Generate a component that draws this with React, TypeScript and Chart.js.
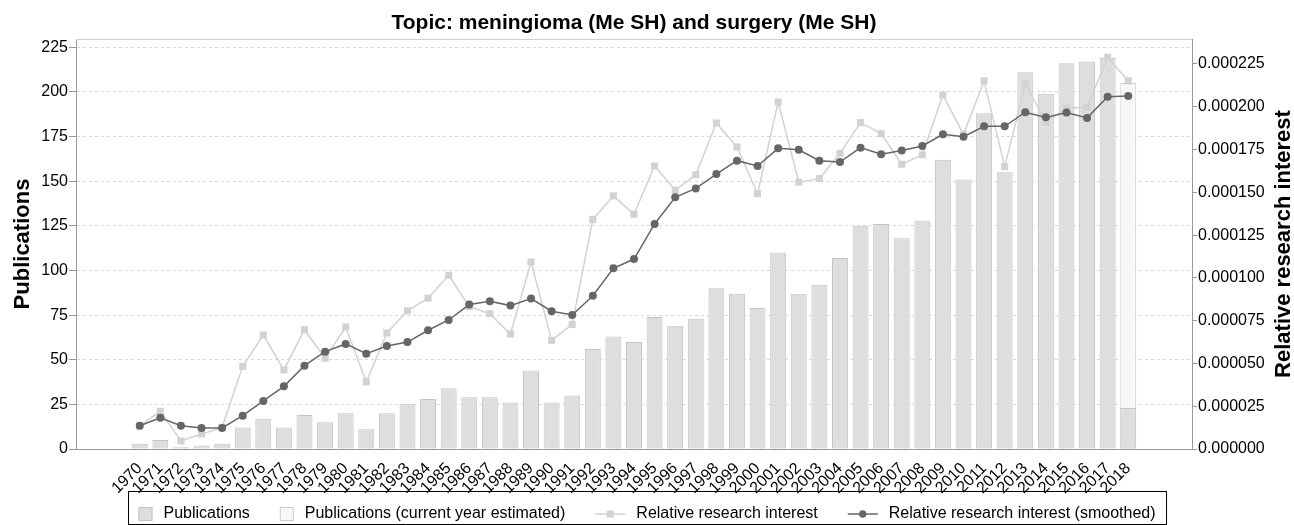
import { useEffect, useRef } from 'react';
import { Chart, registerables } from 'chart.js';

Chart.register(...registerables);

const FONT = "'Liberation Sans', Arial, Helvetica, sans-serif";

const TITLE = 'Topic: meningioma (Me SH) and surgery (Me SH)';
const LEFT_AXIS_TITLE = 'Publications';
const RIGHT_AXIS_TITLE = 'Relative research interest';

const years = [
  1970, 1971, 1972, 1973, 1974, 1975, 1976, 1977, 1978, 1979,
  1980, 1981, 1982, 1983, 1984, 1985, 1986, 1987, 1988, 1989,
  1990, 1991, 1992, 1993, 1994, 1995, 1996, 1997, 1998, 1999,
  2000, 2001, 2002, 2003, 2004, 2005, 2006, 2007, 2008, 2009,
  2010, 2011, 2012, 2013, 2014, 2015, 2016, 2017, 2018,
];

const publications = [
  3, 5, 1, 2, 3, 12, 17, 12, 19, 15,
  20, 11, 20, 25, 28, 34, 29, 29, 26, 44,
  26, 30, 56, 63, 60, 74, 69, 73, 90, 87,
  79, 110, 87, 92, 107, 125, 126, 118, 128, 162,
  151, 188, 155, 211, 199, 216, 217, 219, 23,
];

const estimatedYears = [2018];
const estimatedPublications = [205];

const relativeInterest = [
  13.5e-6, 22.0e-6, 4.7e-6, 8.8e-6, 12.5e-6, 48.3e-6, 66.6e-6, 46.2e-6, 69.7e-6, 53.0e-6,
  71.3e-6, 39.2e-6, 67.8e-6, 80.8e-6, 88.1e-6, 101.5e-6, 83.2e-6, 79.1e-6, 67.2e-6, 109.3e-6,
  63.5e-6, 72.8e-6, 134.2e-6, 147.9e-6, 137.2e-6, 165.4e-6, 151.2e-6, 160.3e-6, 190.5e-6, 176.5e-6,
  149.2e-6, 202.8e-6, 155.9e-6, 158.0e-6, 172.8e-6, 190.7e-6, 184.3e-6, 166.4e-6, 172.0e-6, 206.9e-6,
  183.9e-6, 215.1e-6, 165.0e-6, 213.3e-6, 191.1e-6, 199.1e-6, 199.7e-6, 228.9e-6, 215.1e-6,
];

const relativeInterestSmoothed = [
  13.6e-6, 18.3e-6, 13.6e-6, 12.3e-6, 12.3e-6, 19.5e-6, 28.1e-6, 36.6e-6, 48.7e-6, 56.9e-6,
  61.4e-6, 55.7e-6, 60.2e-6, 62.5e-6, 69.4e-6, 75.4e-6, 84.4e-6, 86.3e-6, 83.8e-6, 87.9e-6,
  80.5e-6, 78.3e-6, 89.6e-6, 105.6e-6, 111.0e-6, 131.5e-6, 147.1e-6, 152.3e-6, 160.7e-6, 168.5e-6,
  165.4e-6, 175.7e-6, 174.9e-6, 168.5e-6, 167.7e-6, 176.1e-6, 172.2e-6, 174.4e-6, 177.1e-6, 183.9e-6,
  182.5e-6, 188.6e-6, 188.6e-6, 196.8e-6, 193.8e-6, 196.6e-6, 193.5e-6, 205.9e-6, 206.3e-6,
];

const leftTickValues = [0, 25, 50, 75, 100, 125, 150, 175, 200, 225];
const rightTickValues = [
  0, 0.000025, 0.00005, 0.000075, 0.0001, 0.000125, 0.00015, 0.000175, 0.0002, 0.000225,
];

const LEFT_MAX = 229.65;
const RIGHT_MAX = 0.0002396;
const X_PAD = 3.095;

const BAR_FILL = '#dedede';
const BAR_BORDER = '#c4c4c4';
const EST_FILL = '#f7f7f7';
const EST_BORDER = '#cdcdcd';
const RRI_COLOR = '#d2d2d2';
const SMOOTH_COLOR = '#666666';

const decorPlugin = {
  id: 'decor',
  beforeDatasetsDraw(chart: any) {
    const { ctx, chartArea } = chart;
    ctx.save();
    ctx.strokeStyle = '#d0d0d0';
    ctx.lineWidth = 1;
    ctx.beginPath();
    ctx.moveTo(chartArea.left, chartArea.top + 0.5);
    ctx.lineTo(chartArea.right, chartArea.top + 0.5);
    ctx.stroke();
    ctx.restore();
  },
  afterDraw(chart: any) {
    const { ctx, chartArea, width } = chart;
    const cx = (chartArea.left + chartArea.right) / 2;
    const cy = (chartArea.top + chartArea.bottom) / 2;
    ctx.save();
    ctx.fillStyle = '#000';
    ctx.textAlign = 'center';
    ctx.textBaseline = 'alphabetic';
    ctx.font = `bold 21px ${FONT}`;
    ctx.fillText(TITLE, cx, 28.5);

    ctx.font = `bold 22px ${FONT}`;
    ctx.save();
    ctx.translate(29, cy);
    ctx.rotate(-Math.PI / 2);
    ctx.fillText(LEFT_AXIS_TITLE, 0, 0);
    ctx.restore();
    ctx.save();
    ctx.translate(1289.5, cy);
    ctx.rotate(-Math.PI / 2);
    ctx.fillText(RIGHT_AXIS_TITLE, 0, 0);
    ctx.restore();

    // legend
    const ds = chart.data.datasets;
    ctx.font = `16px ${FONT}`;
    const items = ds.map((d: any) => ({
      label: d.label,
      kind: d.type === 'bar' ? 'box' : 'line',
      fill: d.backgroundColor,
      stroke: d.borderColor,
      pointStyle: d.pointStyle,
      w: ctx.measureText(d.label).width,
    }));
    const pad = 10.5;
    const boxSym = 14;
    const lineSym = 30;
    const symGap = 11;
    const itemGap = 30;
    let total = pad * 2;
    items.forEach((it: any, i: number) => {
      total += (it.kind === 'box' ? boxSym : lineSym) + symGap + it.w;
      if (i < items.length - 1) total += itemGap;
    });
    const left = Math.round(width / 2 - total / 2);
    const top = 491;
    const bottom = 524;
    const midY = 514;
    ctx.strokeStyle = '#000';
    ctx.lineWidth = 1;
    ctx.strokeRect(left + 0.5, top + 0.5, total, bottom - top);
    let x = left + pad;
    ctx.textAlign = 'left';
    ctx.textBaseline = 'middle';
    items.forEach((it: any) => {
      if (it.kind === 'box') {
        ctx.fillStyle = it.fill;
        ctx.fillRect(x, midY - boxSym / 2, boxSym, boxSym);
        ctx.strokeStyle = it.stroke;
        ctx.strokeRect(x + 0.5, midY - boxSym / 2 + 0.5, boxSym - 1, boxSym - 1);
        x += boxSym + symGap;
      } else {
        ctx.strokeStyle = it.stroke;
        ctx.lineWidth = 1.5;
        ctx.beginPath();
        ctx.moveTo(x, midY);
        ctx.lineTo(x + lineSym, midY);
        ctx.stroke();
        ctx.fillStyle = it.stroke;
        if (it.pointStyle === 'rect') {
          ctx.fillRect(x + lineSym / 2 - 3.5, midY - 3.5, 7, 7);
        } else {
          ctx.beginPath();
          ctx.arc(x + lineSym / 2, midY, 3.7, 0, Math.PI * 2);
          ctx.fill();
        }
        x += lineSym + symGap;
      }
      ctx.fillStyle = '#000';
      ctx.fillText(it.label, x, midY);
      x += it.w + itemGap;
    });
    ctx.restore();
  },
};

export default function App() {
  const canvasRef = useRef<HTMLCanvasElement | null>(null);

  useEffect(() => {
    document.body.style.margin = '0';
    const canvas = canvasRef.current;
    if (!canvas) return;

    const chart = new Chart(canvas, {
      type: 'bar',
      data: {
        datasets: [
          {
            type: 'bar',
            label: 'Publications',
            data: years.map((_, i) => ({ x: i, y: publications[i] })),
            backgroundColor: BAR_FILL,
            borderColor: BAR_BORDER,
            borderWidth: 1,
            borderSkipped: false,
            barPercentage: 0.774,
            categoryPercentage: 1,
            grouped: false,
            order: 2,
            yAxisID: 'y',
          } as any,
          {
            type: 'bar',
            label: 'Publications (current year estimated)',
            data: estimatedYears.map((yr, k) => ({ x: years.indexOf(yr), y: estimatedPublications[k] })),
            backgroundColor: EST_FILL,
            borderColor: EST_BORDER,
            borderWidth: 1,
            borderSkipped: false,
            barPercentage: 0.774,
            categoryPercentage: 1,
            grouped: false,
            order: 3,
            yAxisID: 'y',
          } as any,
          {
            type: 'line',
            label: 'Relative research interest',
            data: years.map((_, i) => ({ x: i, y: relativeInterest[i] })),
            borderColor: RRI_COLOR,
            backgroundColor: RRI_COLOR,
            borderWidth: 1.5,
            pointStyle: 'rect',
            pointRadius: 5,
            pointBorderWidth: 0,
            tension: 0,
            order: 1,
            yAxisID: 'y2',
          } as any,
          {
            type: 'line',
            label: 'Relative research interest (smoothed)',
            data: years.map((_, i) => ({ x: i, y: relativeInterestSmoothed[i] })),
            borderColor: SMOOTH_COLOR,
            backgroundColor: SMOOTH_COLOR,
            borderWidth: 1.5,
            pointStyle: 'circle',
            pointRadius: 4,
            pointBorderWidth: 0,
            tension: 0,
            order: 0,
            yAxisID: 'y2',
          } as any,
        ],
      },
      options: {
        responsive: false,
        animation: false,
        layout: { padding: { top: 39, left: 0, right: 0, bottom: 0 } },
        plugins: {
          legend: { display: false },
          title: { display: false },
          tooltip: { enabled: false },
        },
        scales: {
          x: {
            type: 'linear',
            min: -X_PAD,
            max: years.length - 1 + X_PAD,
            offset: false,
            grid: { display: false },
            border: { display: true, color: '#999999', width: 1 },
            afterBuildTicks: (s: any) => {
              s.ticks = years.map((_, i) => ({ value: i }));
            },
            afterFit: (s: any) => {
              s.height = 76;
            },
            ticks: {
              autoSkip: false,
              minRotation: 45,
              maxRotation: 45,
              padding: 2,
              color: '#000',
              font: { family: FONT, size: 16 },
              callback: (v: any) => String(years[v] ?? ''),
            },
          },
          y: {
            type: 'linear',
            position: 'left',
            min: 0,
            max: LEFT_MAX,
            afterBuildTicks: (s: any) => {
              s.ticks = leftTickValues.map((v) => ({ value: v }));
            },
            afterFit: (s: any) => {
              s.width = 76;
            },
            grid: {
              color: '#d8d8d8',
              drawTicks: true,
              tickLength: 7,
              tickColor: '#999999',
              tickBorderDash: [],
            },
            border: { display: true, color: '#999999', width: 1, dash: [3, 3] },
            ticks: {
              padding: 1,
              color: '#000',
              font: { family: FONT, size: 16 },
            },
          },
          y2: {
            type: 'linear',
            position: 'right',
            min: 0,
            max: RIGHT_MAX,
            afterBuildTicks: (s: any) => {
              s.ticks = rightTickValues.map((v) => ({ value: v }));
            },
            afterFit: (s: any) => {
              s.width = 102;
            },
            grid: {
              drawOnChartArea: false,
              drawTicks: true,
              tickLength: 5,
              tickColor: '#999999',
            },
            border: { display: true, color: '#999999', width: 1 },
            ticks: {
              padding: 1,
              color: '#000',
              font: { family: FONT, size: 16 },
              callback: (v: any) => Number(v).toFixed(6),
            },
          },
        },
      },
      plugins: [decorPlugin],
    });

    return () => chart.destroy();
  }, []);

  return (
    <canvas
      ref={canvasRef}
      width={1294}
      height={525}
      style={{ display: 'block', width: '1294px', height: '525px' }}
    />
  );
}
